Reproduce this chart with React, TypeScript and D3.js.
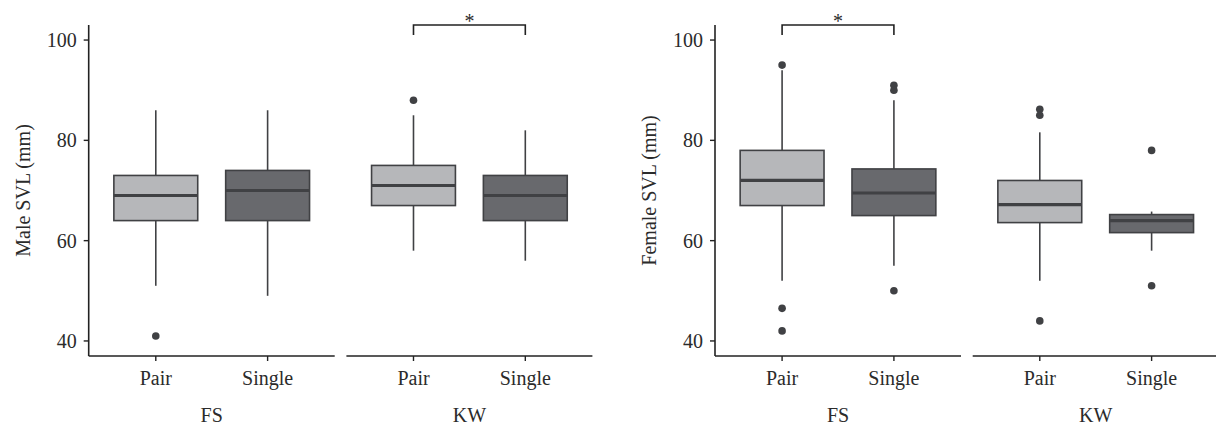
import React from "react";
import * as d3 from "d3";

// categories
const sites = ["FS", "KW"];
const groups = ["Pair", "Single"];
const yTicks = [40, 60, 80, 100];

// box stats [lower whisker, q1, median, q3, upper whisker], order: FS Pair, FS Single, KW Pair, KW Single
const maleStats = [
  [51, 64, 69, 73, 86],
  [49, 64, 70, 74, 86],
  [58, 67, 71, 75, 85],
  [56, 64, 69, 73, 82],
];
const maleOutliers = [[41], [], [88], []];

const femaleStats = [
  [52, 67, 72, 78, 94],
  [55, 65, 69.5, 74.3, 88],
  [52, 63.6, 67.2, 72, 81.6],
  [58, 61.6, 64, 65.2, 65.8],
];
const femaleOutliers = [[95, 46.5, 42], [91, 90, 50], [86.2, 85, 44], [78, 51]];

// significance brackets: [site index, group a, group b]
const maleSig = [[1, 0, 1]];
const femaleSig = [[0, 0, 1]];

const W = 1216;
const H = 426;
const FONT = '"Liberation Serif", "DejaVu Serif", serif';
const LIGHT = "#b6b7ba";
const DARK = "#68696d";
const LINE = "#404144";
const AXIS = "#222222";
const TEXT = "#2b2b2b";

const facetW = 246;
const facetGap = 11.7;
const top = 25;
const bottom = 356;

const y = d3.scaleLinear().domain([37, 103]).range([bottom, top]);

function Panel({ x0, title, stats, outliers, sig }) {
  const facets = sites.map((s, i) => {
    const start = x0 + i * (facetW + facetGap);
    // discrete scale with ggplot-like 0.6 expansion
    const x = d3.scalePoint().domain(groups).range([start, start + facetW]).padding(0.6);
    return { s, i, start, x };
  });

  return (
    <g>
      {/* y axis */}
      <line x1={x0} x2={x0} y1={top} y2={bottom} stroke={AXIS} strokeWidth={1.6} />
      {yTicks.map((t) => (
        <g key={t}>
          <line x1={x0 - 5} x2={x0} y1={y(t)} y2={y(t)} stroke={AXIS} strokeWidth={1.4} />
          <text x={x0 - 12} y={y(t)} dy="0.35em" textAnchor="end" fontSize={20} fill={TEXT}>
            {t}
          </text>
        </g>
      ))}
      <text
        transform={`translate(${x0 - 66},${(top + bottom) / 2}) rotate(-90)`}
        textAnchor="middle"
        dy="0.35em"
        fontSize={20}
        fill={TEXT}
      >
        {title}
      </text>

      {facets.map(({ s, i, start, x }) => {
        const bw = x.step() * 0.75;
        return (
          <g key={s}>
            <line x1={start} x2={start + facetW} y1={bottom} y2={bottom} stroke={AXIS} strokeWidth={1.6} />
            {groups.map((g, j) => {
              const k = i * 2 + j;
              const [lo, q1, med, q3, hi] = stats[k];
              const cx = x(g);
              return (
                <g key={g}>
                  <line x1={cx} x2={cx} y1={bottom} y2={bottom + 5} stroke={AXIS} strokeWidth={1.4} />
                  <text x={cx} y={385} textAnchor="middle" fontSize={20} fill={TEXT}>
                    {g}
                  </text>
                  <line x1={cx} x2={cx} y1={y(hi)} y2={y(q3)} stroke={LINE} strokeWidth={1.6} />
                  <line x1={cx} x2={cx} y1={y(q1)} y2={y(lo)} stroke={LINE} strokeWidth={1.6} />
                  <rect
                    x={cx - bw / 2}
                    y={y(q3)}
                    width={bw}
                    height={y(q1) - y(q3)}
                    fill={j === 0 ? LIGHT : DARK}
                    stroke={LINE}
                    strokeWidth={1.6}
                  />
                  <line x1={cx - bw / 2} x2={cx + bw / 2} y1={y(med)} y2={y(med)} stroke={LINE} strokeWidth={3.2} />
                  {outliers[k].map((o, m) => (
                    <circle key={m} cx={cx} cy={y(o)} r={3.8} fill={LINE} />
                  ))}
                </g>
              );
            })}
            <text x={start + facetW / 2} y={422} textAnchor="middle" fontSize={20} fill={TEXT}>
              {s}
            </text>
            {sig
              .filter((d) => d[0] === i)
              .map((d, m) => {
                const xa = x(groups[d[1]]);
                const xb = x(groups[d[2]]);
                return (
                  <g key={m}>
                    <path
                      d={`M${xa},${y(101)}V${y(103)}H${xb}V${y(101)}`}
                      fill="none"
                      stroke={AXIS}
                      strokeWidth={1.6}
                    />
                    <text x={(xa + xb) / 2} y={y(103) + 3} textAnchor="middle" fontSize={20} fill={TEXT}>
                      *
                    </text>
                  </g>
                );
              })}
          </g>
        );
      })}
    </g>
  );
}

export default function App() {
  return (
    <svg
      width={W}
      height={H}
      style={{ position: "absolute", left: 0, top: 0, background: "#fff", fontFamily: FONT }}
    >
      <Panel x0={88.7} title="Male SVL (mm)" stats={maleStats} outliers={maleOutliers} sig={maleSig} />
      <Panel x0={715} title="Female SVL (mm)" stats={femaleStats} outliers={femaleOutliers} sig={femaleSig} />
    </svg>
  );
}
